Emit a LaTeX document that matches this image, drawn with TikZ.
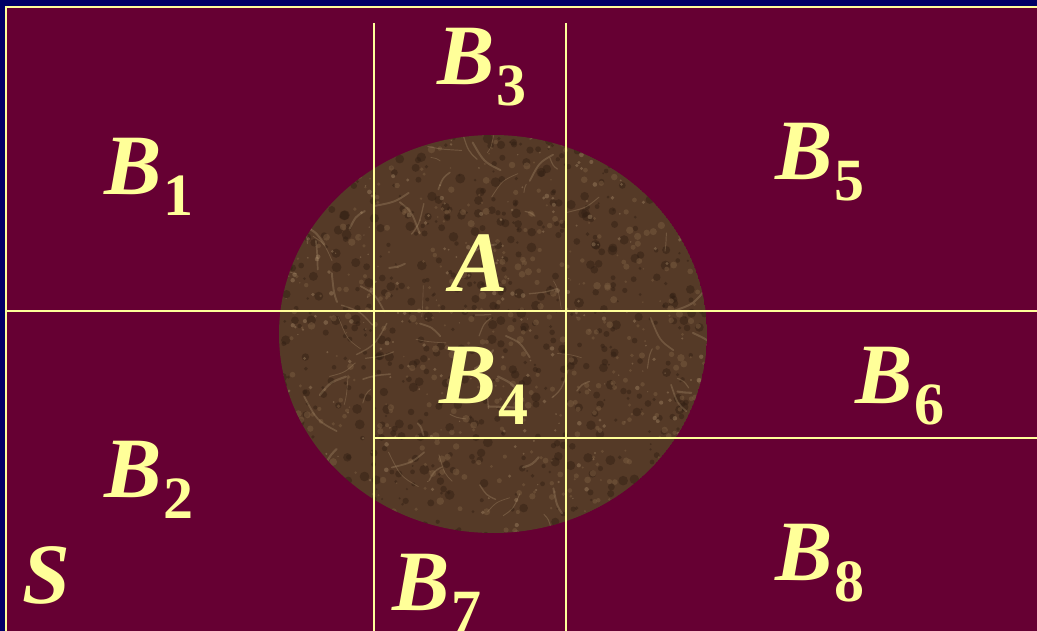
\documentclass[tikz,border=0pt]{standalone}
\usepackage{fontspec}
\setmainfont{Liberation Serif}
\definecolor{navy}{HTML}{000066}
\definecolor{maroon}{HTML}{660033}
\definecolor{pale}{HTML}{FFFF99}
\definecolor{marble}{HTML}{553A27}
\definecolor{marbleL}{HTML}{A88C6A}
\definecolor{marbleM}{HTML}{7A5C40}
\definecolor{marbleD}{HTML}{301E13}
\newcommand\Bsub[1]{\textbf{\textit{B}}\kern2pt\raisebox{-21pt}{\fontsize{60}{60}\selectfont\bfseries\upshape #1}}
\tikzset{
  lab/.style={anchor=base west, inner sep=0pt, text=pale, font=\fontsize{86}{86}\selectfont\bfseries\itshape},
  grid line/.style={draw=pale, line width=1.6pt}
}
\begin{document}
\begin{tikzpicture}[x=1pt,y=-1pt]
\useasboundingbox (0,0) rectangle (1037,631);
\clip (0,0) rectangle (1037,631);
\fill[navy] (0,0) rectangle (1037,631);
\draw[pale, line width=2pt, fill=maroon] (6,7) rectangle (1045,640);
% marble disc
\begin{scope}
\clip (493,334) ellipse [x radius=214, y radius=199];
\fill[marble] (493,334) ellipse [x radius=214, y radius=199];
\pgfmathsetseed{11}
\foreach \i in {1,...,700}{
  \pgfmathsetmacro\xa{280+rnd*430}
  \pgfmathsetmacro\ya{135+rnd*400}
  \pgfmathsetmacro\r{1+rnd*4}
  \fill[marbleD, opacity=0.45] (\xa,\ya) circle (\r pt);
}
\foreach \i in {1,...,500}{
  \pgfmathsetmacro\xa{280+rnd*430}
  \pgfmathsetmacro\ya{135+rnd*400}
  \pgfmathsetmacro\r{0.8+rnd*3}
  \fill[marbleM, opacity=0.5] (\xa,\ya) circle (\r pt);
}
\foreach \i in {1,...,90}{
  \pgfmathsetmacro\xa{280+rnd*430}
  \pgfmathsetmacro\ya{135+rnd*400}
  \pgfmathsetmacro\dx{(rnd-0.5)*70}
  \pgfmathsetmacro\dy{(rnd-0.5)*70}
  \pgfmathsetmacro\w{0.6+rnd*1.6}
  \draw[marbleL, opacity=0.35, line width=\w pt, line cap=round]
     (\xa,\ya) .. controls (\xa+\dx*0.6,\ya+\dy*0.3) .. (\xa+\dx,\ya+\dy);
}
\foreach \i in {1,...,250}{
  \pgfmathsetmacro\xa{280+rnd*430}
  \pgfmathsetmacro\ya{135+rnd*400}
  \pgfmathsetmacro\r{0.6+rnd*1.8}
  \fill[marbleL, opacity=0.4] (\xa,\ya) circle (\r pt);
}
\end{scope}
% grid lines
\draw[grid line] (374,23) -- (374,631);
\draw[grid line] (566,23) -- (566,631);
\draw[grid line] (6,311) -- (1037,311);
\draw[grid line] (374,438) -- (1037,438);
% labels
\node[lab] (b1) at (104,195) {\Bsub{1}};
\node[lab] (b3) at (437,85) {\Bsub{3}};
\node[lab] (b5) at (775,180) {\Bsub{5}};
\node[lab] (a)  at (450,292) {A};
\node[lab] (b4) at (439,403) {\Bsub{4}};
\node[lab] (b6) at (855,403) {\Bsub{6}};
\node[lab] (b2) at (104,497) {\Bsub{2}};
\node[lab] (s)  at (22,603) {S};
\node[lab] (b7) at (392,610) {\Bsub{7}};
\node[lab] (b8) at (775,580) {\Bsub{8}};
\end{tikzpicture}
\end{document}
